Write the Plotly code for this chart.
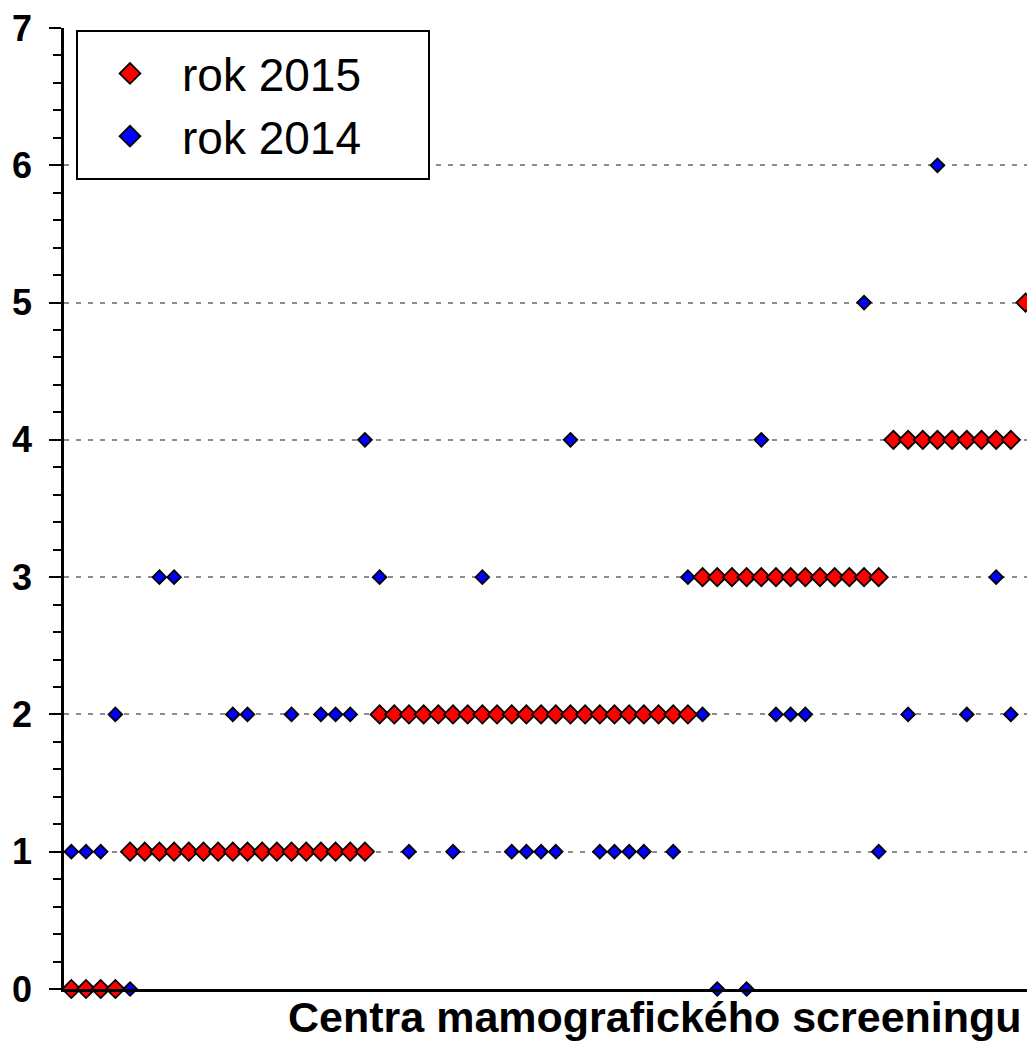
import plotly.graph_objects as go

# Screening centres, one position per centre (sorted by the 2015 value)
centra = list(range(66))

# Values for 2015 (red) and 2014 (blue) for each centre
rok_2015 = [0, 0, 0, 0,
            1, 1, 1, 1, 1, 1, 1, 1, 1, 1, 1, 1, 1, 1, 1, 1, 1,
            2, 2, 2, 2, 2, 2, 2, 2, 2, 2, 2, 2, 2, 2, 2, 2, 2, 2, 2, 2, 2, 2,
            3, 3, 3, 3, 3, 3, 3, 3, 3, 3, 3, 3, 3,
            4, 4, 4, 4, 4, 4, 4, 4, 4,
            5]

rok_2014 = [1, 1, 1, 2, 0, 1, 3, 3, 1, 1, 1, 2, 2, 1, 1, 2, 1, 2, 2, 2, 4,
            3, 2, 1, 2, 2, 1, 2, 3, 2, 1, 1, 1, 1, 4, 2, 1, 1, 1, 1, 2, 1, 3,
            2, 0, 3, 0, 4, 2, 2, 2, 3, 3, 3, 5, 1,
            4, 2, 4, 6, 4, 2, 4, 3, 2,
            5]

y_ticks = [0, 1, 2, 3, 4, 5, 6, 7]

W, H = 1027, 1043
L, R, T, B = 64, 0, 28, 54
pw, ph = W - L - R, H - T - B


def px_x(v):
    return (v - L) / pw


def px_y(v):
    return (H - B - v) / ph


RED, BLUE = "#FF0000", "#0000FF"
EDGE = dict(color="black", width=1.8)

fig = go.Figure()

fig.add_trace(go.Scatter(
    x=centra, y=rok_2014, mode="markers", name="rok 2014", showlegend=False,
    marker=dict(symbol="diamond", size=10.5, color=BLUE, line=EDGE),
    cliponaxis=False,
))
fig.add_trace(go.Scatter(
    x=centra, y=rok_2015, mode="markers", name="rok 2015", showlegend=False,
    marker=dict(symbol="diamond", size=14, color=RED, line=EDGE),
    cliponaxis=False,
))

# legend entries with equal, larger symbols
fig.add_trace(go.Scatter(
    x=[None], y=[None], mode="markers", name="rok 2014",
    marker=dict(symbol="diamond", size=16, color=BLUE, line=EDGE),
))
fig.add_trace(go.Scatter(
    x=[None], y=[None], mode="markers", name="rok 2015",
    marker=dict(symbol="diamond", size=16, color=RED, line=EDGE),
))

# legend frame
fig.add_shape(type="rect", xref="paper", yref="paper",
              x0=px_x(77), x1=px_x(429), y0=px_y(179), y1=px_y(31),
              line=dict(color="black", width=2), fillcolor="white", layer="above")

fig.add_annotation(
    text="<b>Centra mamografického screeningu</b>",
    xref="paper", yref="paper", x=px_x(1024), y=px_y(H),
    xanchor="right", yanchor="bottom", showarrow=False,
    font=dict(family="Liberation Sans", size=43, color="black"),
)

fig.update_layout(
    width=W, height=H,
    margin=dict(l=L, r=R, t=T, b=B, pad=0),
    paper_bgcolor="white", plot_bgcolor="white",
    showlegend=True,
    legend=dict(
        x=px_x(78), y=px_y(37), xanchor="left", yanchor="top",
        xref="paper", yref="paper",
        traceorder="reversed", itemwidth=94,
        font=dict(family="Liberation Sans", size=46, color="black"),
        bgcolor="rgba(0,0,0,0)", borderwidth=0,
    ),
    xaxis=dict(
        range=[-0.5, 65.1], showgrid=False, zeroline=False,
        showticklabels=False, ticks="",
        showline=True, linecolor="black", linewidth=2.5,
    ),
    yaxis=dict(
        range=[0, 7], tickvals=y_ticks,
        ticktext=["<b>%d</b>" % v for v in y_ticks],
        showgrid=True, gridcolor="#8c8c8c", gridwidth=2, griddash="5px,7px",
        zeroline=False,
        showline=True, linecolor="black", linewidth=2.5,
        ticks="outside", ticklen=12, tickwidth=2, tickcolor="black",
        minor=dict(dtick=0.2, ticks="outside", ticklen=8, tickwidth=2,
                   tickcolor="black", showgrid=False),
        ticklabelstandoff=10,
        tickfont=dict(family="Liberation Sans", size=36, color="black"),
    ),
)

fig.write_html("out.html")
